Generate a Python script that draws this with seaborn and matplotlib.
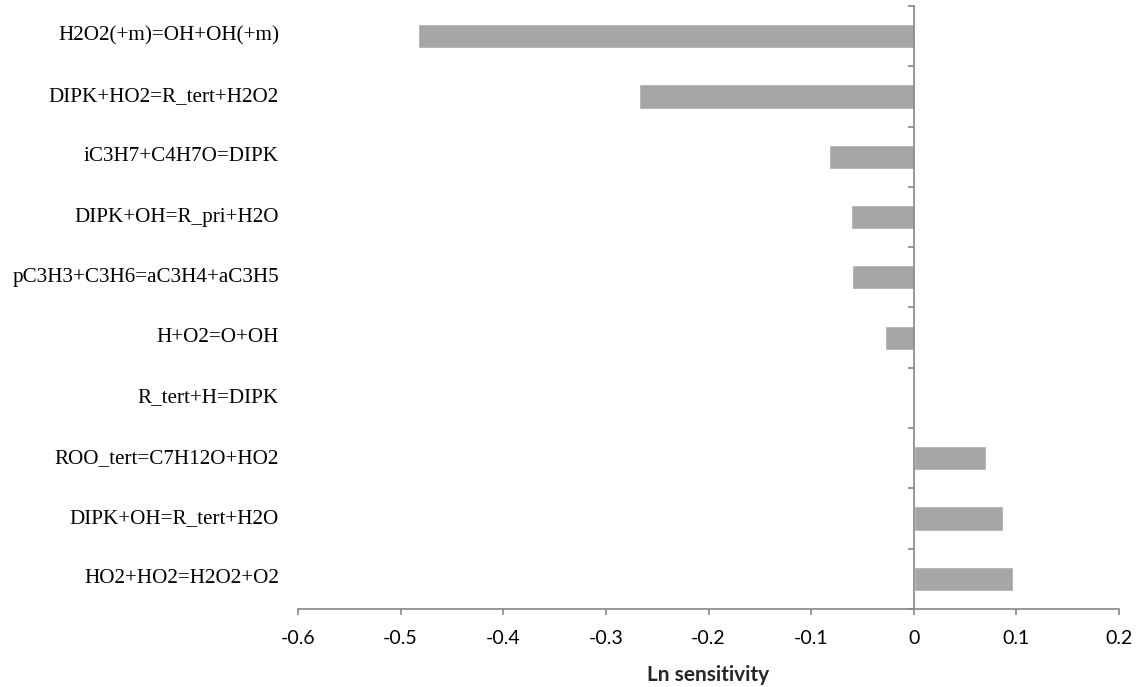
import matplotlib
matplotlib.use("Agg")
import matplotlib.pyplot as plt
import matplotlib.transforms as mtransforms
import seaborn as sns
import pandas as pd
import numpy as np

reactions = [
    "H2O2(+m)=OH+OH(+m)",
    "DIPK+HO2=R_tert+H2O2",
    "iC3H7+C4H7O=DIPK",
    "DIPK+OH=R_pri+H2O",
    "pC3H3+C3H6=aC3H4+aC3H5",
    "H+O2=O+OH",
    "R_tert+H=DIPK",
    "ROO_tert=C7H12O+HO2",
    "DIPK+OH=R_tert+H2O",
    "HO2+HO2=H2O2+O2",
]
sensitivity = [-0.483, -0.268, -0.083, -0.0616, -0.0603, -0.0282, 0.0, 0.0706, 0.0867, 0.0966]
xticks = [-0.6, -0.5, -0.4, -0.3, -0.2, -0.1, 0, 0.1, 0.2]
xticklabels = ["-0.6", "-0.5", "-0.4", "-0.3", "-0.2", "-0.1", "0", "0.1", "0.2"]

df = pd.DataFrame({"reaction": reactions, "sens": sensitivity})

sns.set_style("white")
fig = plt.figure(figsize=(11.4, 6.87), dpi=100)
ax = fig.add_axes([298 / 1140, 1 - 609 / 687, (1119 - 298) / 1140, (609 - 6) / 687])

sns.barplot(data=df, x="sens", y="reaction", orient="h", color="#A6A6A6",
            saturation=1, width=0.4, ax=ax, order=reactions)

gray = "#868686"
ax.set_xlim(-0.6, 0.2)
ax.set_ylim(len(reactions) - 0.5, -0.5)

for s in ["top", "right"]:
    ax.spines[s].set_visible(False)
ax.spines["left"].set_position(("data", 0))
for s in ["left", "bottom"]:
    ax.spines[s].set_color(gray)
    ax.spines[s].set_linewidth(1.2)

ax.set_yticks(np.arange(-0.5, len(reactions), 1.0))
ax.set_yticklabels([])
ax.tick_params(axis="y", direction="out", length=4, width=1.2, color=gray, left=True)

ax.set_xticks(xticks)
ax.set_xticklabels(xticklabels, fontfamily="Lato", fontsize=14, color="black")
ax.tick_params(axis="x", direction="out", length=4, width=1.2, color=gray, bottom=True, pad=11)

ax.set_ylabel("")
ax.set_xlabel("Ln sensitivity", fontfamily="Lato", fontweight="bold", fontsize=15, labelpad=13)

trans = mtransforms.blended_transform_factory(ax.transAxes, ax.transData)
for i, r in enumerate(reactions):
    ax.text(-19 / 821, i, r, transform=trans, ha="right", va="center",
            fontfamily="Liberation Serif", fontsize=15.2, color="black")

ax.grid(False)
fig.savefig("out.png", dpi=100)
